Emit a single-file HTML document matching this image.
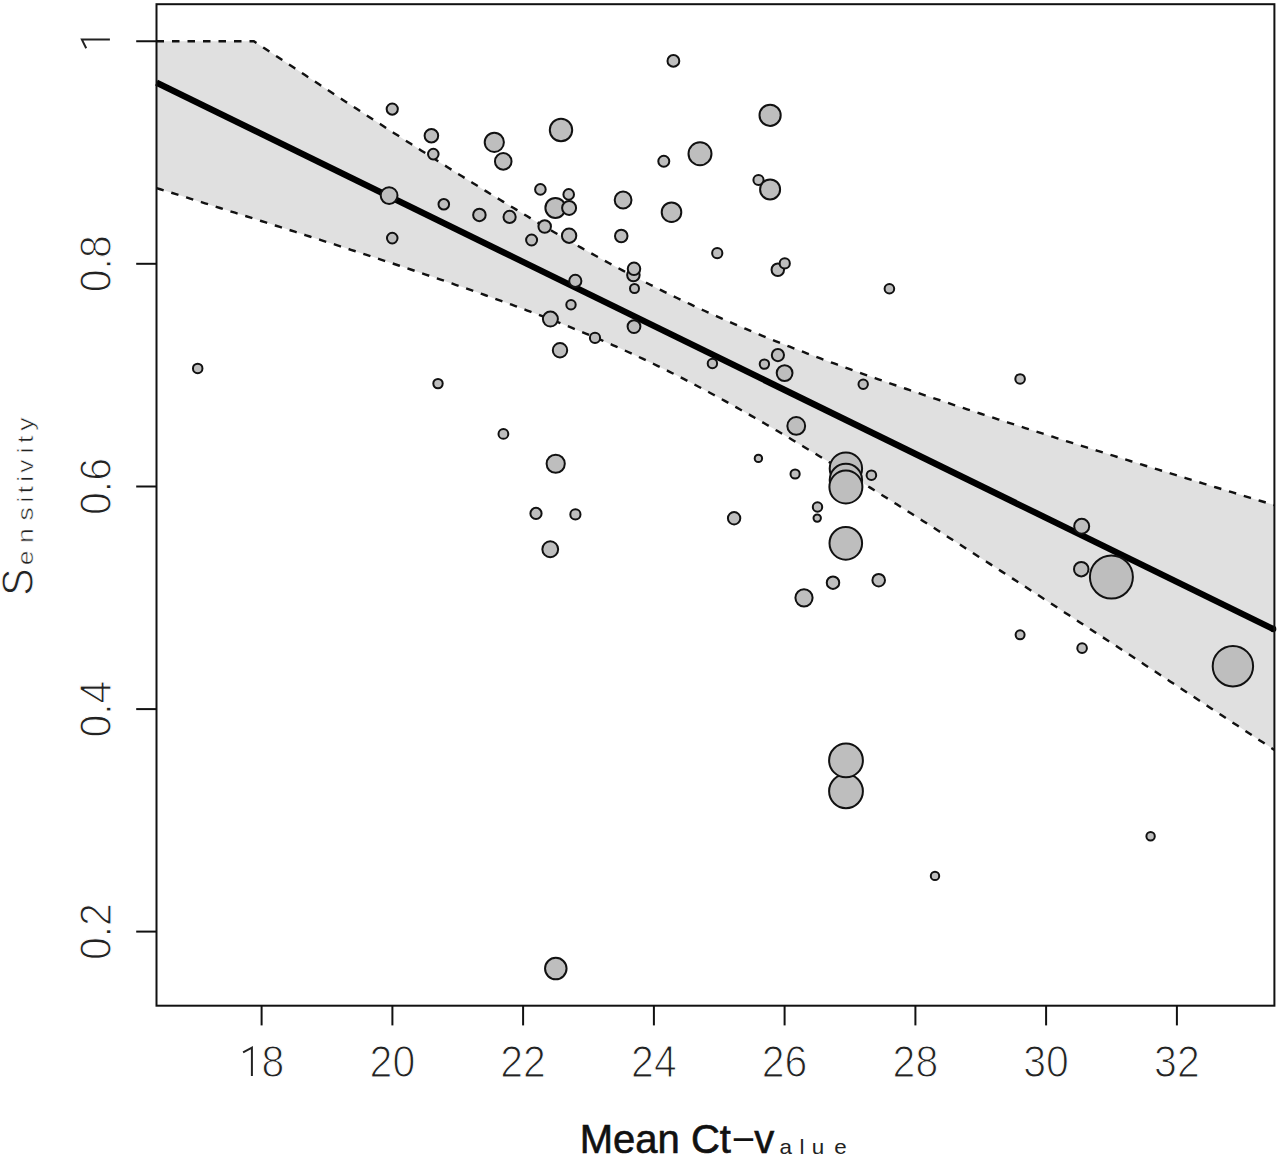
<!DOCTYPE html>
<html><head><meta charset="utf-8"><style>
html,body{margin:0;padding:0;background:#fff;}
body{width:1280px;height:1157px;overflow:hidden;}
svg{display:block;}
.tk{font-family:"Liberation Sans",sans-serif;font-size:41px;fill:#222;stroke:#fff;stroke-width:1.1px;paint-order:normal;}
</style></head><body>
<svg width="1280" height="1157" viewBox="0 0 1280 1157">
<rect x="0" y="0" width="1280" height="1157" fill="#fff"/>
<polygon points="156.50,41.25 253.85,41.25 257.26,43.51 260.68,45.77 264.09,48.03 267.50,50.29 270.92,52.55 274.33,54.81 277.74,57.06 281.16,59.32 284.57,61.57 287.98,63.82 291.40,66.07 294.81,68.32 298.22,70.57 301.64,72.82 305.05,75.06 308.46,77.31 311.88,79.55 315.29,81.79 318.70,84.03 322.12,86.27 325.53,88.51 328.94,90.74 332.35,92.98 335.77,95.21 339.18,97.44 342.59,99.67 346.01,101.90 349.42,104.12 352.83,106.35 356.25,108.57 359.66,110.79 363.07,113.01 366.49,115.23 369.90,117.44 373.31,119.65 376.73,121.87 380.14,124.07 383.55,126.28 386.97,128.48 390.38,130.69 393.79,132.89 397.21,135.08 400.62,137.28 404.03,139.47 407.45,141.66 410.86,143.85 414.27,146.03 417.68,148.21 421.10,150.39 424.51,152.57 427.92,154.74 431.34,156.91 434.75,159.07 438.16,161.24 441.58,163.40 444.99,165.55 448.40,167.71 451.82,169.86 455.23,172.00 458.64,174.15 462.06,176.29 465.47,178.42 468.88,180.55 472.30,182.68 475.71,184.80 479.12,186.92 482.54,189.03 485.95,191.14 489.36,193.25 492.78,195.35 496.19,197.44 499.60,199.53 503.02,201.62 506.43,203.70 509.84,205.77 513.25,207.84 516.67,209.90 520.08,211.96 523.49,214.01 526.91,216.06 530.32,218.10 533.73,220.13 537.15,222.16 540.56,224.18 543.97,226.20 547.39,228.20 550.80,230.20 554.21,232.20 557.63,234.18 561.04,236.16 564.45,238.13 567.87,240.09 571.28,242.05 574.69,243.99 578.11,245.93 581.52,247.86 584.93,249.78 588.35,251.70 591.76,253.60 595.17,255.50 598.58,257.38 602.00,259.26 605.41,261.13 608.82,262.98 612.24,264.83 615.65,266.67 619.06,268.50 622.48,270.32 625.89,272.12 629.30,273.92 632.72,275.71 636.13,277.49 639.54,279.25 642.96,281.01 646.37,282.76 649.78,284.49 653.20,286.21 656.61,287.93 660.02,289.63 663.44,291.32 666.85,293.00 670.26,294.67 673.68,296.33 677.09,297.97 680.50,299.61 683.92,301.24 687.33,302.85 690.74,304.46 694.15,306.05 697.57,307.63 700.98,309.20 704.39,310.76 707.81,312.31 711.22,313.86 714.63,315.39 718.05,316.90 721.46,318.41 724.87,319.91 728.29,321.40 731.70,322.88 735.11,324.35 738.53,325.82 741.94,327.27 745.35,328.71 748.77,330.14 752.18,331.57 755.59,332.98 759.01,334.39 762.42,335.79 765.83,337.18 769.25,338.56 772.66,339.93 776.07,341.30 779.48,342.66 782.90,344.01 786.31,345.35 789.72,346.69 793.14,348.02 796.55,349.34 799.96,350.65 803.38,351.96 806.79,353.26 810.20,354.56 813.62,355.85 817.03,357.13 820.44,358.41 823.86,359.68 827.27,360.94 830.68,362.20 834.10,363.46 837.51,364.71 840.92,365.95 844.34,367.19 847.75,368.43 851.16,369.65 854.58,370.88 857.99,372.10 861.40,373.32 864.82,374.53 868.23,375.73 871.64,376.94 875.05,378.14 878.47,379.33 881.88,380.52 885.29,381.71 888.71,382.89 892.12,384.07 895.53,385.25 898.95,386.42 902.36,387.59 905.77,388.76 909.19,389.92 912.60,391.08 916.01,392.24 919.43,393.39 922.84,394.55 926.25,395.69 929.67,396.84 933.08,397.98 936.49,399.12 939.91,400.26 943.32,401.40 946.73,402.53 950.15,403.66 953.56,404.79 956.97,405.92 960.38,407.04 963.80,408.16 967.21,409.28 970.62,410.40 974.04,411.52 977.45,412.63 980.86,413.74 984.28,414.85 987.69,415.96 991.10,417.06 994.52,418.17 997.93,419.27 1001.34,420.37 1004.76,421.47 1008.17,422.57 1011.58,423.67 1015.00,424.76 1018.41,425.85 1021.82,426.95 1025.24,428.04 1028.65,429.12 1032.06,430.21 1035.48,431.30 1038.89,432.38 1042.30,433.47 1045.72,434.55 1049.13,435.63 1052.54,436.71 1055.95,437.79 1059.37,438.87 1062.78,439.94 1066.19,441.02 1069.61,442.09 1073.02,443.16 1076.43,444.24 1079.85,445.31 1083.26,446.38 1086.67,447.45 1090.09,448.51 1093.50,449.58 1096.91,450.65 1100.33,451.71 1103.74,452.77 1107.15,453.84 1110.57,454.90 1113.98,455.96 1117.39,457.02 1120.81,458.08 1124.22,459.14 1127.63,460.20 1131.05,461.26 1134.46,462.31 1137.87,463.37 1141.28,464.43 1144.70,465.48 1148.11,466.53 1151.52,467.59 1154.94,468.64 1158.35,469.69 1161.76,470.74 1165.18,471.79 1168.59,472.84 1172.00,473.89 1175.42,474.94 1178.83,475.99 1182.24,477.04 1185.66,478.08 1189.07,479.13 1192.48,480.17 1195.90,481.22 1199.31,482.26 1202.72,483.31 1206.14,484.35 1209.55,485.39 1212.96,486.44 1216.38,487.48 1219.79,488.52 1223.20,489.56 1226.62,490.60 1230.03,491.64 1233.44,492.68 1236.85,493.72 1240.27,494.76 1243.68,495.80 1247.09,496.83 1250.51,497.87 1253.92,498.91 1257.33,499.95 1260.75,500.98 1264.16,502.02 1267.57,503.05 1270.99,504.09 1274.40,505.12 1274.40,750.00 1270.66,747.54 1266.92,745.07 1263.18,742.61 1259.44,740.15 1255.71,737.68 1251.97,735.22 1248.23,732.76 1244.49,730.30 1240.75,727.84 1237.01,725.37 1233.27,722.91 1229.53,720.45 1225.80,717.99 1222.06,715.53 1218.32,713.07 1214.58,710.61 1210.84,708.15 1207.10,705.70 1203.36,703.24 1199.62,700.78 1195.89,698.32 1192.15,695.87 1188.41,693.41 1184.67,690.95 1180.93,688.50 1177.19,686.04 1173.45,683.59 1169.71,681.13 1165.97,678.68 1162.24,676.23 1158.50,673.77 1154.76,671.32 1151.02,668.87 1147.28,666.42 1143.54,663.97 1139.80,661.52 1136.06,659.07 1132.33,656.62 1128.59,654.17 1124.85,651.72 1121.11,649.27 1117.37,646.83 1113.63,644.38 1109.89,641.94 1106.15,639.49 1102.42,637.05 1098.68,634.60 1094.94,632.16 1091.20,629.72 1087.46,627.28 1083.72,624.84 1079.98,622.40 1076.24,619.96 1072.51,617.52 1068.77,615.08 1065.03,612.65 1061.29,610.21 1057.55,607.77 1053.81,605.34 1050.07,602.91 1046.33,600.48 1042.59,598.04 1038.86,595.61 1035.12,593.18 1031.38,590.76 1027.64,588.33 1023.90,585.90 1020.16,583.48 1016.42,581.05 1012.68,578.63 1008.95,576.21 1005.21,573.79 1001.47,571.37 997.73,568.95 993.99,566.54 990.25,564.12 986.51,561.71 982.77,559.30 979.04,556.89 975.30,554.48 971.56,552.07 967.82,549.66 964.08,547.26 960.34,544.86 956.60,542.46 952.86,540.06 949.12,537.66 945.39,535.26 941.65,532.87 937.91,530.48 934.17,528.09 930.43,525.70 926.69,523.32 922.95,520.94 919.21,518.55 915.48,516.18 911.74,513.80 908.00,511.43 904.26,509.06 900.52,506.69 896.78,504.33 893.04,501.96 889.30,499.60 885.57,497.25 881.83,494.90 878.09,492.55 874.35,490.20 870.61,487.86 866.87,485.52 863.13,483.18 859.39,480.85 855.65,478.52 851.92,476.20 848.18,473.88 844.44,471.56 840.70,469.25 836.96,466.95 833.22,464.65 829.48,462.35 825.74,460.06 822.01,457.77 818.27,455.49 814.53,453.22 810.79,450.95 807.05,448.68 803.31,446.43 799.57,444.18 795.83,441.93 792.10,439.70 788.36,437.47 784.62,435.24 780.88,433.03 777.14,430.82 773.40,428.62 769.66,426.43 765.92,424.25 762.18,422.07 758.45,419.91 754.71,417.75 750.97,415.61 747.23,413.47 743.49,411.35 739.75,409.23 736.01,407.12 732.27,405.03 728.54,402.95 724.80,400.88 721.06,398.82 717.32,396.77 713.58,394.73 709.84,392.71 706.10,390.70 702.36,388.70 698.63,386.72 694.89,384.75 691.15,382.79 687.41,380.85 683.67,378.92 679.93,377.01 676.19,375.11 672.45,373.22 668.72,371.35 664.98,369.49 661.24,367.65 657.50,365.83 653.76,364.01 650.02,362.22 646.28,360.43 642.54,358.67 638.80,356.91 635.07,355.17 631.33,353.45 627.59,351.74 623.85,350.05 620.11,348.37 616.37,346.70 612.63,345.04 608.89,343.40 605.16,341.78 601.42,340.17 597.68,338.56 593.94,336.98 590.20,335.40 586.46,333.84 582.72,332.29 578.98,330.75 575.25,329.22 571.51,327.70 567.77,326.19 564.03,324.70 560.29,323.21 556.55,321.74 552.81,320.27 549.07,318.81 545.33,317.37 541.60,315.93 537.86,314.50 534.12,313.08 530.38,311.66 526.64,310.26 522.90,308.86 519.16,307.47 515.42,306.08 511.69,304.71 507.95,303.34 504.21,301.97 500.47,300.62 496.73,299.27 492.99,297.92 489.25,296.58 485.51,295.25 481.78,293.92 478.04,292.60 474.30,291.28 470.56,289.96 466.82,288.66 463.08,287.35 459.34,286.05 455.60,284.76 451.86,283.46 448.13,282.18 444.39,280.89 440.65,279.61 436.91,278.34 433.17,277.07 429.43,275.80 425.69,274.53 421.95,273.27 418.22,272.01 414.48,270.75 410.74,269.50 407.00,268.25 403.26,267.00 399.52,265.75 395.78,264.51 392.04,263.27 388.31,262.03 384.57,260.80 380.83,259.56 377.09,258.33 373.35,257.10 369.61,255.87 365.87,254.65 362.13,253.43 358.39,252.21 354.66,250.99 350.92,249.77 347.18,248.55 343.44,247.34 339.70,246.13 335.96,244.92 332.22,243.71 328.48,242.50 324.75,241.30 321.01,240.09 317.27,238.89 313.53,237.69 309.79,236.49 306.05,235.29 302.31,234.09 298.57,232.89 294.84,231.70 291.10,230.50 287.36,229.31 283.62,228.12 279.88,226.93 276.14,225.74 272.40,224.55 268.66,223.36 264.93,222.18 261.19,220.99 257.45,219.80 253.71,218.62 249.97,217.44 246.23,216.26 242.49,215.08 238.75,213.89 235.01,212.72 231.28,211.54 227.54,210.36 223.80,209.18 220.06,208.01 216.32,206.83 212.58,205.66 208.84,204.48 205.10,203.31 201.37,202.13 197.63,200.96 193.89,199.79 190.15,198.62 186.41,197.45 182.67,196.28 178.93,195.11 175.19,193.94 171.46,192.77 167.72,191.61 163.98,190.44 160.24,189.27 156.50,188.11" fill="#e0e0e0" stroke="none"/>
<g fill="none" stroke="#111" stroke-width="2.4" stroke-dasharray="7.5 8">
<polyline points="156.50,41.25 253.85,41.25 257.26,43.51 260.68,45.77 264.09,48.03 267.50,50.29 270.92,52.55 274.33,54.81 277.74,57.06 281.16,59.32 284.57,61.57 287.98,63.82 291.40,66.07 294.81,68.32 298.22,70.57 301.64,72.82 305.05,75.06 308.46,77.31 311.88,79.55 315.29,81.79 318.70,84.03 322.12,86.27 325.53,88.51 328.94,90.74 332.35,92.98 335.77,95.21 339.18,97.44 342.59,99.67 346.01,101.90 349.42,104.12 352.83,106.35 356.25,108.57 359.66,110.79 363.07,113.01 366.49,115.23 369.90,117.44 373.31,119.65 376.73,121.87 380.14,124.07 383.55,126.28 386.97,128.48 390.38,130.69 393.79,132.89 397.21,135.08 400.62,137.28 404.03,139.47 407.45,141.66 410.86,143.85 414.27,146.03 417.68,148.21 421.10,150.39 424.51,152.57 427.92,154.74 431.34,156.91 434.75,159.07 438.16,161.24 441.58,163.40 444.99,165.55 448.40,167.71 451.82,169.86 455.23,172.00 458.64,174.15 462.06,176.29 465.47,178.42 468.88,180.55 472.30,182.68 475.71,184.80 479.12,186.92 482.54,189.03 485.95,191.14 489.36,193.25 492.78,195.35 496.19,197.44 499.60,199.53 503.02,201.62 506.43,203.70 509.84,205.77 513.25,207.84 516.67,209.90 520.08,211.96 523.49,214.01 526.91,216.06 530.32,218.10 533.73,220.13 537.15,222.16 540.56,224.18 543.97,226.20 547.39,228.20 550.80,230.20 554.21,232.20 557.63,234.18 561.04,236.16 564.45,238.13 567.87,240.09 571.28,242.05 574.69,243.99 578.11,245.93 581.52,247.86 584.93,249.78 588.35,251.70 591.76,253.60 595.17,255.50 598.58,257.38 602.00,259.26 605.41,261.13 608.82,262.98 612.24,264.83 615.65,266.67 619.06,268.50 622.48,270.32 625.89,272.12 629.30,273.92 632.72,275.71 636.13,277.49 639.54,279.25 642.96,281.01 646.37,282.76 649.78,284.49 653.20,286.21 656.61,287.93 660.02,289.63 663.44,291.32 666.85,293.00 670.26,294.67 673.68,296.33 677.09,297.97 680.50,299.61 683.92,301.24 687.33,302.85 690.74,304.46 694.15,306.05 697.57,307.63 700.98,309.20 704.39,310.76 707.81,312.31 711.22,313.86 714.63,315.39 718.05,316.90 721.46,318.41 724.87,319.91 728.29,321.40 731.70,322.88 735.11,324.35 738.53,325.82 741.94,327.27 745.35,328.71 748.77,330.14 752.18,331.57 755.59,332.98 759.01,334.39 762.42,335.79 765.83,337.18 769.25,338.56 772.66,339.93 776.07,341.30 779.48,342.66 782.90,344.01 786.31,345.35 789.72,346.69 793.14,348.02 796.55,349.34 799.96,350.65 803.38,351.96 806.79,353.26 810.20,354.56 813.62,355.85 817.03,357.13 820.44,358.41 823.86,359.68 827.27,360.94 830.68,362.20 834.10,363.46 837.51,364.71 840.92,365.95 844.34,367.19 847.75,368.43 851.16,369.65 854.58,370.88 857.99,372.10 861.40,373.32 864.82,374.53 868.23,375.73 871.64,376.94 875.05,378.14 878.47,379.33 881.88,380.52 885.29,381.71 888.71,382.89 892.12,384.07 895.53,385.25 898.95,386.42 902.36,387.59 905.77,388.76 909.19,389.92 912.60,391.08 916.01,392.24 919.43,393.39 922.84,394.55 926.25,395.69 929.67,396.84 933.08,397.98 936.49,399.12 939.91,400.26 943.32,401.40 946.73,402.53 950.15,403.66 953.56,404.79 956.97,405.92 960.38,407.04 963.80,408.16 967.21,409.28 970.62,410.40 974.04,411.52 977.45,412.63 980.86,413.74 984.28,414.85 987.69,415.96 991.10,417.06 994.52,418.17 997.93,419.27 1001.34,420.37 1004.76,421.47 1008.17,422.57 1011.58,423.67 1015.00,424.76 1018.41,425.85 1021.82,426.95 1025.24,428.04 1028.65,429.12 1032.06,430.21 1035.48,431.30 1038.89,432.38 1042.30,433.47 1045.72,434.55 1049.13,435.63 1052.54,436.71 1055.95,437.79 1059.37,438.87 1062.78,439.94 1066.19,441.02 1069.61,442.09 1073.02,443.16 1076.43,444.24 1079.85,445.31 1083.26,446.38 1086.67,447.45 1090.09,448.51 1093.50,449.58 1096.91,450.65 1100.33,451.71 1103.74,452.77 1107.15,453.84 1110.57,454.90 1113.98,455.96 1117.39,457.02 1120.81,458.08 1124.22,459.14 1127.63,460.20 1131.05,461.26 1134.46,462.31 1137.87,463.37 1141.28,464.43 1144.70,465.48 1148.11,466.53 1151.52,467.59 1154.94,468.64 1158.35,469.69 1161.76,470.74 1165.18,471.79 1168.59,472.84 1172.00,473.89 1175.42,474.94 1178.83,475.99 1182.24,477.04 1185.66,478.08 1189.07,479.13 1192.48,480.17 1195.90,481.22 1199.31,482.26 1202.72,483.31 1206.14,484.35 1209.55,485.39 1212.96,486.44 1216.38,487.48 1219.79,488.52 1223.20,489.56 1226.62,490.60 1230.03,491.64 1233.44,492.68 1236.85,493.72 1240.27,494.76 1243.68,495.80 1247.09,496.83 1250.51,497.87 1253.92,498.91 1257.33,499.95 1260.75,500.98 1264.16,502.02 1267.57,503.05 1270.99,504.09 1274.40,505.12"/>
<polyline points="156.50,188.11 160.24,189.27 163.98,190.44 167.72,191.61 171.46,192.77 175.19,193.94 178.93,195.11 182.67,196.28 186.41,197.45 190.15,198.62 193.89,199.79 197.63,200.96 201.37,202.13 205.10,203.31 208.84,204.48 212.58,205.66 216.32,206.83 220.06,208.01 223.80,209.18 227.54,210.36 231.28,211.54 235.01,212.72 238.75,213.89 242.49,215.08 246.23,216.26 249.97,217.44 253.71,218.62 257.45,219.80 261.19,220.99 264.93,222.18 268.66,223.36 272.40,224.55 276.14,225.74 279.88,226.93 283.62,228.12 287.36,229.31 291.10,230.50 294.84,231.70 298.57,232.89 302.31,234.09 306.05,235.29 309.79,236.49 313.53,237.69 317.27,238.89 321.01,240.09 324.75,241.30 328.48,242.50 332.22,243.71 335.96,244.92 339.70,246.13 343.44,247.34 347.18,248.55 350.92,249.77 354.66,250.99 358.39,252.21 362.13,253.43 365.87,254.65 369.61,255.87 373.35,257.10 377.09,258.33 380.83,259.56 384.57,260.80 388.31,262.03 392.04,263.27 395.78,264.51 399.52,265.75 403.26,267.00 407.00,268.25 410.74,269.50 414.48,270.75 418.22,272.01 421.95,273.27 425.69,274.53 429.43,275.80 433.17,277.07 436.91,278.34 440.65,279.61 444.39,280.89 448.13,282.18 451.86,283.46 455.60,284.76 459.34,286.05 463.08,287.35 466.82,288.66 470.56,289.96 474.30,291.28 478.04,292.60 481.78,293.92 485.51,295.25 489.25,296.58 492.99,297.92 496.73,299.27 500.47,300.62 504.21,301.97 507.95,303.34 511.69,304.71 515.42,306.08 519.16,307.47 522.90,308.86 526.64,310.26 530.38,311.66 534.12,313.08 537.86,314.50 541.60,315.93 545.33,317.37 549.07,318.81 552.81,320.27 556.55,321.74 560.29,323.21 564.03,324.70 567.77,326.19 571.51,327.70 575.25,329.22 578.98,330.75 582.72,332.29 586.46,333.84 590.20,335.40 593.94,336.98 597.68,338.56 601.42,340.17 605.16,341.78 608.89,343.40 612.63,345.04 616.37,346.70 620.11,348.37 623.85,350.05 627.59,351.74 631.33,353.45 635.07,355.17 638.80,356.91 642.54,358.67 646.28,360.43 650.02,362.22 653.76,364.01 657.50,365.83 661.24,367.65 664.98,369.49 668.72,371.35 672.45,373.22 676.19,375.11 679.93,377.01 683.67,378.92 687.41,380.85 691.15,382.79 694.89,384.75 698.63,386.72 702.36,388.70 706.10,390.70 709.84,392.71 713.58,394.73 717.32,396.77 721.06,398.82 724.80,400.88 728.54,402.95 732.27,405.03 736.01,407.12 739.75,409.23 743.49,411.35 747.23,413.47 750.97,415.61 754.71,417.75 758.45,419.91 762.18,422.07 765.92,424.25 769.66,426.43 773.40,428.62 777.14,430.82 780.88,433.03 784.62,435.24 788.36,437.47 792.10,439.70 795.83,441.93 799.57,444.18 803.31,446.43 807.05,448.68 810.79,450.95 814.53,453.22 818.27,455.49 822.01,457.77 825.74,460.06 829.48,462.35 833.22,464.65 836.96,466.95 840.70,469.25 844.44,471.56 848.18,473.88 851.92,476.20 855.65,478.52 859.39,480.85 863.13,483.18 866.87,485.52 870.61,487.86 874.35,490.20 878.09,492.55 881.83,494.90 885.57,497.25 889.30,499.60 893.04,501.96 896.78,504.33 900.52,506.69 904.26,509.06 908.00,511.43 911.74,513.80 915.48,516.18 919.21,518.55 922.95,520.94 926.69,523.32 930.43,525.70 934.17,528.09 937.91,530.48 941.65,532.87 945.39,535.26 949.12,537.66 952.86,540.06 956.60,542.46 960.34,544.86 964.08,547.26 967.82,549.66 971.56,552.07 975.30,554.48 979.04,556.89 982.77,559.30 986.51,561.71 990.25,564.12 993.99,566.54 997.73,568.95 1001.47,571.37 1005.21,573.79 1008.95,576.21 1012.68,578.63 1016.42,581.05 1020.16,583.48 1023.90,585.90 1027.64,588.33 1031.38,590.76 1035.12,593.18 1038.86,595.61 1042.59,598.04 1046.33,600.48 1050.07,602.91 1053.81,605.34 1057.55,607.77 1061.29,610.21 1065.03,612.65 1068.77,615.08 1072.51,617.52 1076.24,619.96 1079.98,622.40 1083.72,624.84 1087.46,627.28 1091.20,629.72 1094.94,632.16 1098.68,634.60 1102.42,637.05 1106.15,639.49 1109.89,641.94 1113.63,644.38 1117.37,646.83 1121.11,649.27 1124.85,651.72 1128.59,654.17 1132.33,656.62 1136.06,659.07 1139.80,661.52 1143.54,663.97 1147.28,666.42 1151.02,668.87 1154.76,671.32 1158.50,673.77 1162.24,676.23 1165.97,678.68 1169.71,681.13 1173.45,683.59 1177.19,686.04 1180.93,688.50 1184.67,690.95 1188.41,693.41 1192.15,695.87 1195.89,698.32 1199.62,700.78 1203.36,703.24 1207.10,705.70 1210.84,708.15 1214.58,710.61 1218.32,713.07 1222.06,715.53 1225.80,717.99 1229.53,720.45 1233.27,722.91 1237.01,725.37 1240.75,727.84 1244.49,730.30 1248.23,732.76 1251.97,735.22 1255.71,737.68 1259.44,740.15 1263.18,742.61 1266.92,745.07 1270.66,747.54 1274.40,750.00"/>
</g>
<line x1="156.5" y1="82.6" x2="1273.2" y2="629.0" stroke="#000" stroke-width="6.3"/><circle cx="1273.2" cy="629.0" r="3.15" fill="#000"/>
<g fill="#bebebe" stroke="#111" stroke-width="2">
<circle cx="197.7" cy="368.4" r="4.75"/>
<circle cx="392.25" cy="109.1" r="5.60"/>
<circle cx="431.4" cy="135.75" r="6.80"/>
<circle cx="433.3" cy="154.1" r="5.30"/>
<circle cx="494.3" cy="142.3" r="9.60"/>
<circle cx="503.25" cy="161.4" r="8.30"/>
<circle cx="561" cy="130" r="11.20"/>
<circle cx="389.1" cy="195.6" r="8.40"/>
<circle cx="443.8" cy="204.2" r="5.30"/>
<circle cx="479.4" cy="214.9" r="6.25"/>
<circle cx="509.6" cy="216.9" r="6.10"/>
<circle cx="540.4" cy="189.4" r="5.30"/>
<circle cx="568.7" cy="194.4" r="5.30"/>
<circle cx="555.4" cy="207.9" r="10.00"/>
<circle cx="569.1" cy="207.9" r="7.00"/>
<circle cx="544.7" cy="226.5" r="6.25"/>
<circle cx="531.6" cy="240" r="5.50"/>
<circle cx="569.1" cy="235.7" r="7.20"/>
<circle cx="392.25" cy="238.1" r="5.30"/>
<circle cx="575.3" cy="280.9" r="6.10"/>
<circle cx="571" cy="304.7" r="4.70"/>
<circle cx="550.4" cy="319.1" r="7.50"/>
<circle cx="595" cy="337.9" r="5.10"/>
<circle cx="560" cy="350.25" r="7.20"/>
<circle cx="438" cy="383.6" r="4.70"/>
<circle cx="633.4" cy="275" r="6.25"/>
<circle cx="634" cy="268.8" r="6.25"/>
<circle cx="634.5" cy="288.5" r="4.50"/>
<circle cx="634" cy="326.6" r="6.40"/>
<circle cx="673.4" cy="60.9" r="5.90"/>
<circle cx="770.1" cy="115.3" r="10.60"/>
<circle cx="700" cy="153.75" r="11.50"/>
<circle cx="663.8" cy="161.25" r="5.50"/>
<circle cx="758.5" cy="180" r="5.10"/>
<circle cx="770.1" cy="189.4" r="10.00"/>
<circle cx="623.1" cy="200" r="8.40"/>
<circle cx="671.5" cy="212.2" r="9.80"/>
<circle cx="621.25" cy="236" r="6.25"/>
<circle cx="717.25" cy="253.1" r="5.10"/>
<circle cx="777.8" cy="269.75" r="6.25"/>
<circle cx="784.75" cy="263.4" r="5.10"/>
<circle cx="712.4" cy="363.5" r="4.70"/>
<circle cx="777.9" cy="355.1" r="6.10"/>
<circle cx="764.4" cy="364.1" r="4.70"/>
<circle cx="784.6" cy="373.1" r="7.90"/>
<circle cx="863.2" cy="384.3" r="4.70"/>
<circle cx="796.25" cy="425.9" r="8.90"/>
<circle cx="758.4" cy="458.4" r="3.70"/>
<circle cx="795.1" cy="474" r="4.60"/>
<circle cx="871.4" cy="475.2" r="4.80"/>
<circle cx="845.9" cy="468.6" r="16.20"/>
<circle cx="845.9" cy="480" r="16.20"/>
<circle cx="845.9" cy="487" r="16.50"/>
<circle cx="817.5" cy="507" r="4.70"/>
<circle cx="817.2" cy="518.1" r="3.70"/>
<circle cx="845.8" cy="543.35" r="16.30"/>
<circle cx="833" cy="582.65" r="6.25"/>
<circle cx="878.7" cy="580.2" r="6.30"/>
<circle cx="804" cy="597.85" r="8.60"/>
<circle cx="503.4" cy="433.9" r="4.90"/>
<circle cx="555.7" cy="463.75" r="9.10"/>
<circle cx="536" cy="513.4" r="5.60"/>
<circle cx="575.4" cy="514.4" r="5.10"/>
<circle cx="550.25" cy="549.25" r="7.90"/>
<circle cx="734.1" cy="518.25" r="6.20"/>
<circle cx="1020.1" cy="378.95" r="4.80"/>
<circle cx="1081.7" cy="526.25" r="7.50"/>
<circle cx="1081.25" cy="569.2" r="7.25"/>
<circle cx="1111.4" cy="577" r="21.50"/>
<circle cx="1082.1" cy="648.15" r="4.80"/>
<circle cx="1232.9" cy="666.2" r="20.20"/>
<circle cx="846" cy="791.25" r="16.90"/>
<circle cx="846" cy="760.45" r="16.90"/>
<circle cx="935" cy="875.9" r="4.20"/>
<circle cx="1020.1" cy="634.8" r="4.50"/>
<circle cx="1150.6" cy="836.25" r="4.20"/>
<circle cx="555.8" cy="968.6" r="10.75"/>
<circle cx="889.4" cy="288.75" r="4.80"/>
</g>
<rect x="156.5" y="4.2" width="1117.9" height="1001.5" fill="none" stroke="#111" stroke-width="2"/>
<g stroke="#111" stroke-width="2"><line x1="261.6" y1="1005.7" x2="261.6" y2="1025.4"/><line x1="392.4" y1="1005.7" x2="392.4" y2="1025.4"/><line x1="523.1" y1="1005.7" x2="523.1" y2="1025.4"/><line x1="653.9" y1="1005.7" x2="653.9" y2="1025.4"/><line x1="784.6" y1="1005.7" x2="784.6" y2="1025.4"/><line x1="915.4" y1="1005.7" x2="915.4" y2="1025.4"/><line x1="1046.1" y1="1005.7" x2="1046.1" y2="1025.4"/><line x1="1176.9" y1="1005.7" x2="1176.9" y2="1025.4"/><line x1="136.2" y1="931.6" x2="156.5" y2="931.6"/><line x1="136.2" y1="709.1" x2="156.5" y2="709.1"/><line x1="136.2" y1="486.5" x2="156.5" y2="486.5"/><line x1="136.2" y1="263.8" x2="156.5" y2="263.8"/><line x1="136.2" y1="41.25" x2="156.5" y2="41.25"/></g>
<g class="tk"><text transform="translate(392.4,1077.2) scale(1,1.1)" text-anchor="middle">20</text><text transform="translate(523.1,1077.2) scale(1,1.1)" text-anchor="middle">22</text><text transform="translate(653.9,1077.2) scale(1,1.1)" text-anchor="middle">24</text><text transform="translate(784.6,1077.2) scale(1,1.1)" text-anchor="middle">26</text><text transform="translate(915.4,1077.2) scale(1,1.1)" text-anchor="middle">28</text><text transform="translate(1046.1,1077.2) scale(1,1.1)" text-anchor="middle">30</text><text transform="translate(1176.9,1077.2) scale(1,1.1)" text-anchor="middle">32</text><text transform="translate(272.9,1077.2) scale(1,1.1)" text-anchor="middle">8</text><text transform="translate(110.8,931.6) rotate(-90) scale(1,1.1)" text-anchor="middle">0.2</text><text transform="translate(110.8,709.1) rotate(-90) scale(1,1.1)" text-anchor="middle">0.4</text><text transform="translate(110.8,486.5) rotate(-90) scale(1,1.1)" text-anchor="middle">0.6</text><text transform="translate(110.8,263.8) rotate(-90) scale(1,1.1)" text-anchor="middle">0.8</text></g>
<g fill="none" stroke="#222" stroke-width="2" stroke-linejoin="miter">
<path d="M243.1,1052.3 L251.9,1047.6 L251.9,1075.9"/>
<path d="M86.2,48.2 L81.9,39.6 L109.9,39.6"/>
</g>
<g font-family="Liberation Sans, sans-serif" fill="#111" stroke="#111" stroke-width="0.6" font-size="40">
<text x="579.8" y="1153">Mean Ct</text>
<text x="743.4" y="1153" text-anchor="middle" stroke="none">−</text>
<text x="764.2" y="1153" text-anchor="middle">v</text>
</g>
<g font-family="Liberation Sans, sans-serif" fill="#222" font-size="20" text-anchor="middle">
<text transform="translate(785.8,1153.5) scale(1.12,1)">a</text><text transform="translate(802,1153.5) scale(1.12,1)">l</text><text transform="translate(817.9,1153.5) scale(1.12,1)">u</text><text transform="translate(840.5,1153.5) scale(1.12,1)">e</text>
</g>
<g font-family="Liberation Sans, sans-serif" fill="#222" transform="translate(32.8,597) rotate(-90)" text-anchor="middle">
<text x="0" y="0" font-size="41" stroke="#fff" stroke-width="0.9" transform="translate(14.8,0) scale(1,1.1)">S</text>
<text x="0" y="0" font-size="22" stroke="#fff" stroke-width="0.5" transform="translate(39.0,0) scale(1.2,1)">e</text><text x="0" y="0" font-size="22" stroke="#fff" stroke-width="0.5" transform="translate(61.4,0) scale(1.2,1)">n</text><text x="0" y="0" font-size="22" stroke="#fff" stroke-width="0.5" transform="translate(83.2,0) scale(1.2,1)">s</text><text x="0" y="0" font-size="22" stroke="#fff" stroke-width="0.5" transform="translate(97.5,0) scale(1.2,1)">i</text><text x="0" y="0" font-size="22" stroke="#fff" stroke-width="0.5" transform="translate(107.5,0) scale(1.2,1)">t</text><text x="0" y="0" font-size="22" stroke="#fff" stroke-width="0.5" transform="translate(118.3,0) scale(1.2,1)">i</text><text x="0" y="0" font-size="22" stroke="#fff" stroke-width="0.5" transform="translate(130.9,0) scale(1.2,1)">v</text><text x="0" y="0" font-size="22" stroke="#fff" stroke-width="0.5" transform="translate(146.8,0) scale(1.2,1)">i</text><text x="0" y="0" font-size="22" stroke="#fff" stroke-width="0.5" transform="translate(157.7,0) scale(1.2,1)">t</text><text x="0" y="0" font-size="22" stroke="#fff" stroke-width="0.5" transform="translate(172.8,0) scale(1.2,1)">y</text>
</g>
</svg>
</body></html>
